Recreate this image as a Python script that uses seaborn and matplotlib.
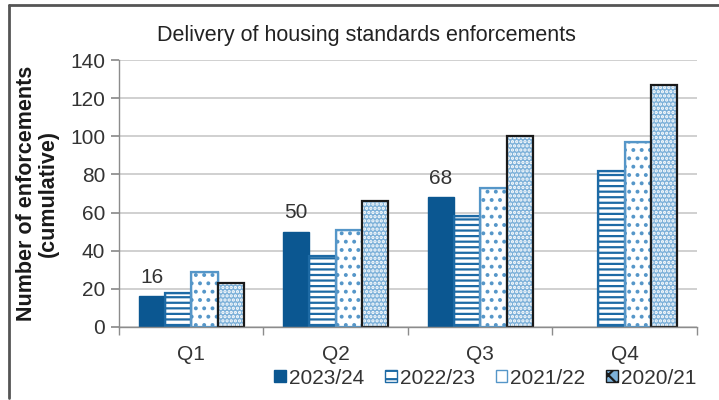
import numpy as np
import pandas as pd
import seaborn as sns
import matplotlib.pyplot as plt
from matplotlib.patches import Rectangle, Patch
from matplotlib.lines import Line2D

quarters = ["Q1", "Q2", "Q3", "Q4"]
years = ["2023/24", "2022/23", "2021/22", "2020/21"]
v_2023_24 = [16, 50, 68, np.nan]
v_2022_23 = [18, 37, 58, 82]
v_2021_22 = [29, 51, 73, 97]
v_2020_21 = [23, 66, 100, 127]
y_ticks = [0, 20, 40, 60, 80, 100, 120, 140]

series = [v_2023_24, v_2022_23, v_2021_22, v_2020_21]
df = pd.DataFrame({
    "quarter": quarters * len(years),
    "year": np.repeat(years, len(quarters)),
    "value": np.concatenate(series),
}).dropna()

sns.set_theme(style="white")
plt.rcParams["font.family"] = ["Liberation Sans", "DejaVu Sans"]
plt.rcParams["hatch.linewidth"] = 1.6

fig = plt.figure(figsize=(7.19, 4.0), dpi=100)
ax = fig.add_axes([0.1655, 0.1825, 0.8039, 0.6675])

sns.barplot(data=df, x="quarter", y="value", hue="year", hue_order=years,
            order=quarters, width=0.73, gap=0, ax=ax, legend=False,
            errorbar=None, saturation=1)

dark = "#0b5791"
mid = "#1d6aa5"
light = "#7db1d9"
styles = {
    "2023/24": dict(facecolor=dark, edgecolor=dark, hatch=None),
    "2022/23": dict(facecolor="white", edgecolor=mid, hatch="---"),
    "2021/22": dict(facecolor="white", edgecolor="#5596c8", hatch=".."),
    "2020/21": dict(facecolor=light, edgecolor="white", hatch="...."),
}

bar_containers = list(ax.containers)
for yr, cont in zip(years, bar_containers):
    st = styles[yr]
    for p in cont.patches:
        if p is None:
            continue
        p.set_facecolor(st["facecolor"])
        p.set_edgecolor(st["edgecolor"])
        p.set_linewidth(1.0)
        if st["hatch"]:
            p.set_hatch(st["hatch"])
        if yr == "2023/24":
            continue
        outline = "#1a1a1a" if yr == "2020/21" else st["edgecolor"]
        ax.add_patch(Rectangle((p.get_x(), p.get_y()), p.get_width(),
                               p.get_height(), fill=False,
                               edgecolor=outline, linewidth=1.6,
                               zorder=p.get_zorder() + 0.1))

first = bar_containers[0]
labels = [f"{v:.0f}" for v in v_2023_24 if not np.isnan(v)]
ax.bar_label(first, labels=labels, padding=7, fontsize=15, color="#333333")

ax.set_ylim(0, 140)
ax.set_yticks(y_ticks)
ax.set_xlim(-0.5, 3.5)
ax.yaxis.grid(True, color="#c8c8c8", linewidth=1.2)
ax.set_axisbelow(True)
for s in ["top", "right"]:
    ax.spines[s].set_visible(False)
for s in ["left", "bottom"]:
    ax.spines[s].set_color("#8c8c8c")
    ax.spines[s].set_linewidth(1.0)

ax.tick_params(axis="y", which="both", left=True, length=6, color="#8c8c8c",
               labelsize=15, labelcolor="#333333", pad=4)
ax.set_xticks(range(4))
ax.set_xticklabels(quarters)
ax.tick_params(axis="x", which="major", bottom=False, labelsize=15,
               labelcolor="#333333", pad=7)
ax.set_xticks([-0.5, 0.5, 1.5, 2.5, 3.5], minor=True)
ax.tick_params(axis="x", which="minor", bottom=True, length=6,
               color="#8c8c8c")

ax.set_xlabel("")
ax.set_ylabel("Number of enforcements\n(cumulative)", fontsize=15.5,
              fontweight="bold", color="#1a1a1a", labelpad=8,
              linespacing=1.05)

fig.text(0.51, 0.91, "Delivery of housing standards enforcements",
         ha="center", va="center", fontsize=15.5, color="#222222")

handles = [
    Patch(facecolor=dark, edgecolor=dark),
    Patch(facecolor="white", edgecolor=mid, hatch="--"),
    Patch(facecolor="white", edgecolor="#5596c8"),
    Patch(facecolor=light, edgecolor="#1a1a1a", hatch="xx"),
]
fig.legend(handles, years, loc="center", bbox_to_anchor=(0.675, 0.055),
           ncol=4, frameon=False, fontsize=15, handlelength=0.55,
           handleheight=0.55, handletextpad=0.15, columnspacing=1.0,
           labelcolor="#333333")

# outer frame of the chart
fig.add_artist(Line2D([9 / 719, 9 / 719], [2 / 400, 395 / 400],
                      transform=fig.transFigure, color="#555555", lw=2))
fig.add_artist(Line2D([9 / 719, 1.0], [395 / 400, 395 / 400],
                      transform=fig.transFigure, color="#555555", lw=2))

fig.savefig("out.png", dpi=100)
